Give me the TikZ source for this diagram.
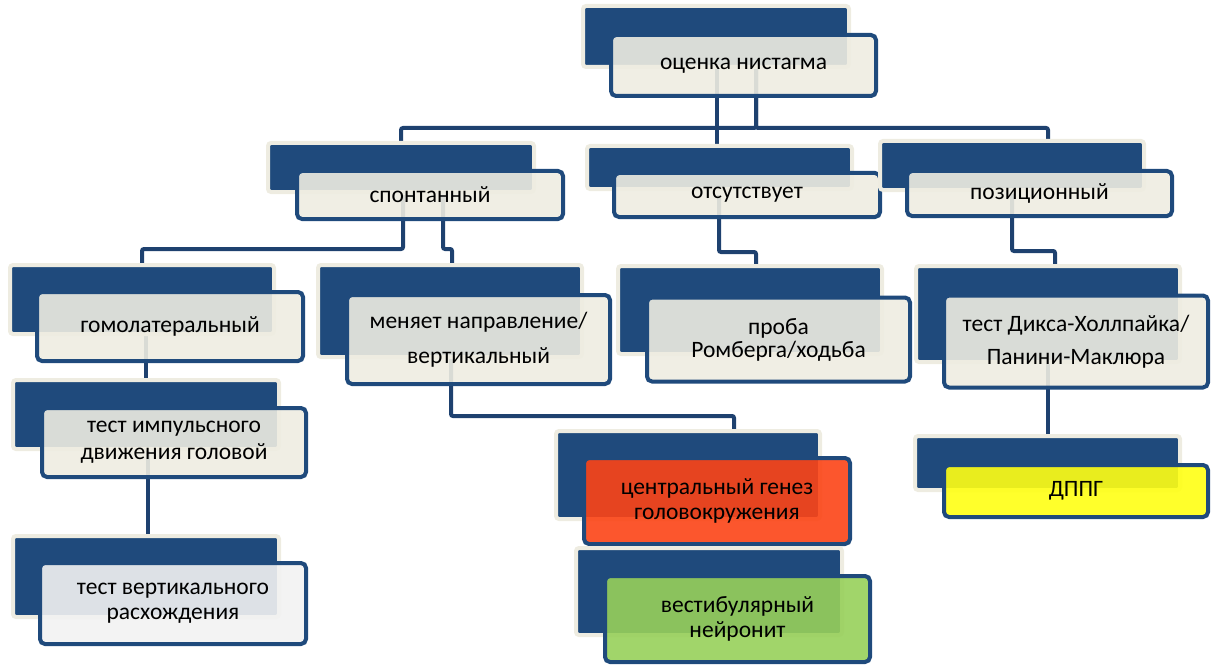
\documentclass[tikz,border=0pt]{standalone}
\usepackage{fontspec}
\setmainfont{Carlito}
\pgfdeclarelayer{bg}
\pgfsetlayers{bg,main}
\definecolor{cBack}{HTML}{1F4A7C}
\definecolor{cBeige}{HTML}{EEECE1}
\definecolor{cLine}{HTML}{1E416F}
\definecolor{cFront}{HTML}{EEECE1}
\definecolor{cGrey}{HTML}{F2F2F2}
\definecolor{cRed}{HTML}{FC4416}
\definecolor{cGreen}{HTML}{97D05A}
\definecolor{cYellow}{HTML}{FFFF14}
\tikzset{
  backbox/.style={rectangle, rounded corners=3pt, fill=cBack, draw=cBeige, line width=4pt, inner sep=0pt},
  frontbox/.style={rectangle, rounded corners=5pt, fill=cFront, fill opacity=0.9, draw opacity=1, text opacity=1,
    draw=cBack, line width=4pt, align=center, inner sep=2pt, font=\fontsize{23.5}{25}\selectfont},
  conn/.style={draw=cLine, line width=4pt, rounded corners=2pt},
}
\begin{document}
\begin{tikzpicture}[x=1pt,y=-1pt]
\useasboundingbox (0,0) rectangle (1213,666);
% level 0
\node[backbox, minimum width=266, minimum height=61] (b1) at (716,36.5) {};
\node[frontbox, minimum width=265, minimum height=61] (n1) at (743.5,65.5) {оценка нистагма};
% level 1
\node[backbox, minimum width=266, minimum height=49] (b2) at (401,167.5) {};
\node[frontbox, minimum width=266, minimum height=48] (n2) at (430,195) {спонтанный};
\node[backbox, minimum width=265, minimum height=43] (b3) at (719.5,167.5) {};
\node[frontbox, minimum width=266, minimum height=44] (n3) at (747,195) {отсутствует};
\node[backbox, minimum width=264, minimum height=49] (b4) at (1012,165.5) {};
\node[frontbox, minimum width=265, minimum height=45] (n4) at (1039.5,193.5) {позиционный};
% level 2
\node[backbox, minimum width=264, minimum height=69] (b5) at (142,299.5) {};
\node[frontbox, minimum width=266, minimum height=69] (n5) at (170,326.5) {гомолатеральный};
\node[backbox, minimum width=264, minimum height=92] (b6) at (450,311) {};
\node[frontbox, minimum width=263, minimum height=89] (n6) at (478.5,339.5) {меняет направление/\\[10pt]вертикальный};
\node[backbox, minimum width=264, minimum height=88] (b7) at (750,310) {};
\node[frontbox, minimum width=263, minimum height=84] (n7) at (778.5,339.5) {проба\\[-2pt]Ромберга/ходьба};
\node[backbox, minimum width=264, minimum height=96] (b8) at (1048,314) {};
\node[frontbox, minimum width=264, minimum height=92] (n8) at (1076,341.5) {тест Дикса-Холлпайка/\\[8pt]Панини-Маклюра};
% level 3
\node[backbox, minimum width=266, minimum height=69] (b9) at (146,414.5) {};
\node[frontbox, minimum width=264, minimum height=69] (n9) at (174,442.5) {тест импульсного\\[2pt]движения головой};
\node[backbox, minimum width=264, minimum height=88] (b10) at (688,475) {};
\node[frontbox, fill=cRed, minimum width=266, minimum height=86] (n10) at (717,501) {центральный генез\\головокружения};
\node[backbox, minimum width=265, minimum height=54] (b11) at (1047.5,463) {};
\node[frontbox, fill=cYellow, minimum width=264, minimum height=52] (n11) at (1076,491) {ДППГ};
% level 4
\node[backbox, minimum width=266, minimum height=81] (b12) at (146,576.5) {};
\node[frontbox, fill=cGrey, minimum width=266, minimum height=81] (n12) at (173,603.5) {тест вертикального\\расхождения};
\node[backbox, minimum width=266, minimum height=87] (b13) at (709,591.5) {};
\node[frontbox, fill=cGreen, minimum width=265, minimum height=86] (n13) at (737.5,619) {вестибулярный\\нейронит};
% connectors
\begin{pgfonlayer}{bg}
\draw[conn] ([xshift=12.5pt]n1.center) -- ++(0,62.5) -| (b2.north);
\draw[conn] ([xshift=-26.5pt]n1.center) -- ([xshift=-26.5pt]n1.center |- b3.north);
\draw[conn] ([xshift=12.5pt]n1.center) -- ++(0,62.5) -| ([xshift=36pt]b4.north);
\draw[conn] ([xshift=-27pt]n2.center) -- ++(0,54) -| (b5.north);
\draw[conn] ([xshift=13pt]n2.center) -- ++(0,54) -| ([xshift=2pt]b6.north);
\draw[conn] ([xshift=-28pt]n3.center) -- ++(0,57) -| ([xshift=6pt]b7.north);
\draw[conn] ([xshift=-27.5pt]n4.center) -- ++(0,57.5) -| ([xshift=7pt]b8.north);
\draw[conn] ([xshift=-24pt]n5.center) -- ([xshift=-24pt]n5.center |- b9.north);
\draw[conn] ([xshift=-26pt]n9.center) -- ([xshift=-26pt]n9.center |- b12.north);
\draw[conn] ([xshift=-27.5pt]n6.center) -- ++(0,76.5) -| ([xshift=46pt]b10.north);
\draw[conn] ([xshift=-28pt]n8.center) -- ([xshift=-28pt]n8.center |- b11.north);
\end{pgfonlayer}
\end{tikzpicture}
\end{document}
